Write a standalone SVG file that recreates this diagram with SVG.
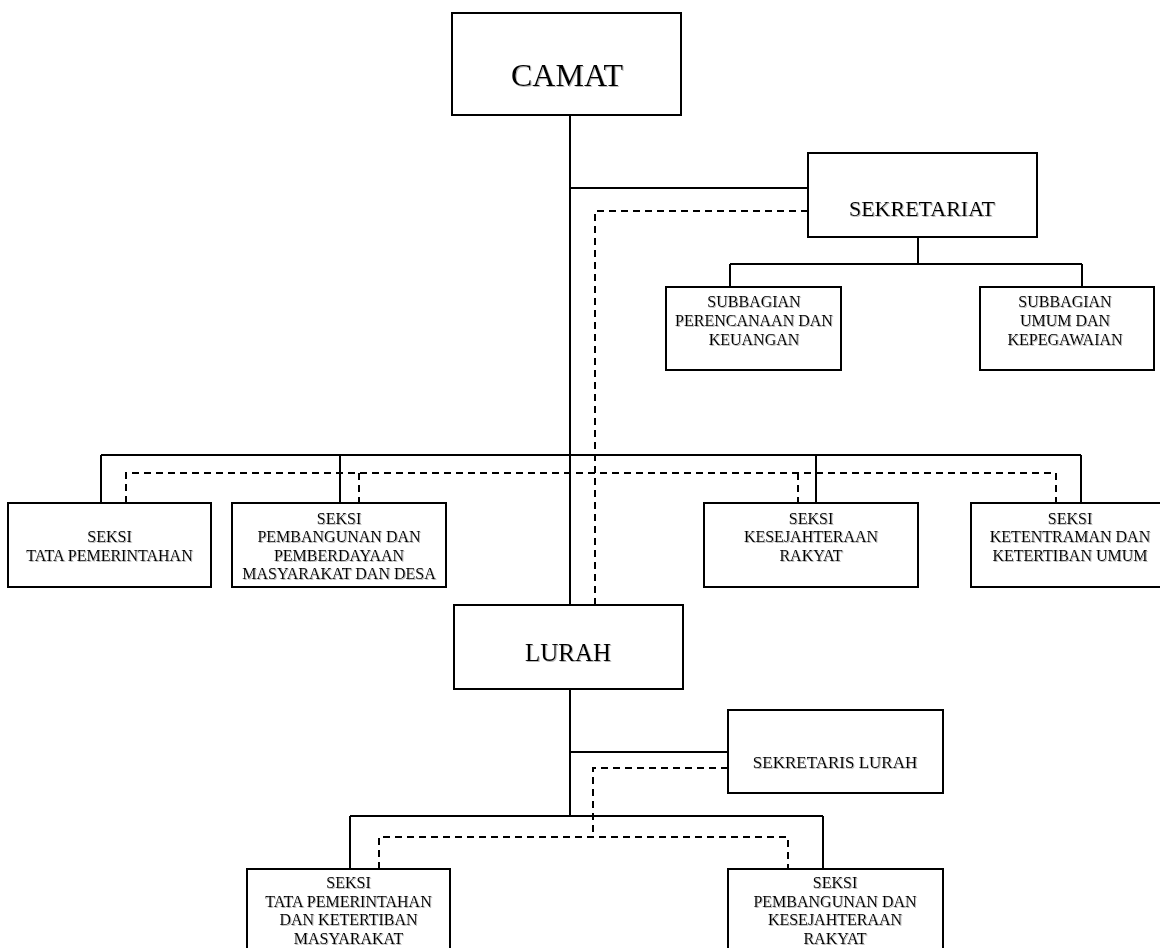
<svg xmlns="http://www.w3.org/2000/svg" width="1160" height="948" viewBox="0 0 1160 948">
<defs>
<filter id="sh" x="-10%" y="-20%" width="130%" height="150%">
<feDropShadow dx="1" dy="1" stdDeviation="0.6" flood-color="#888" flood-opacity="0.6"/>
</filter>
</defs>
<style>
.box{fill:#fff;stroke:#000;stroke-width:2}
.t{font-family:"Liberation Serif","Times New Roman",serif;fill:#000;text-anchor:middle;filter:url(#sh)}
.s16{font-size:16px}
.ln{fill:none;stroke:#000;stroke-width:2}
.dash{fill:none;stroke:#000;stroke-width:2;stroke-dasharray:7 5}
</style>
<rect width="1160" height="948" fill="#fff"/>
<g id="connectors">
<path class="ln" d="M570 115V605M570 188H808M918 237V264M730 264H1082M730 264V287M1082 264V287"/>
<path class="ln" d="M101 455H1081M101 455V503M340 455V503M816 455V503M1081 455V503"/>
<path class="ln" d="M570 689V816M570 752H728M350 816H823M350 816V869M823 816V869"/>
<path class="dash" d="M808 211H595V605"/>
<path class="dash" d="M126 503V473H1056V503M359 473V503M798 473V503"/>
<path class="dash" d="M728 768H593V837"/>
<path class="dash" d="M379 869V837H788V869"/>
</g>
<g id="camat">
<rect class="box" x="452" y="13" width="229" height="102"/>
<text class="t" x="567" y="86" font-size="32">CAMAT</text>
</g>
<g id="sekretariat">
<rect class="box" x="808" y="153" width="229" height="84"/>
<text class="t" x="922" y="216" font-size="22">SEKRETARIAT</text>
</g>
<g id="subbagian-perencanaan">
<rect class="box" x="666" y="287" width="175" height="83"/>
<text class="t s16"><tspan x="754" y="307">SUBBAGIAN</tspan><tspan x="754" y="326">PERENCANAAN DAN</tspan><tspan x="754" y="344.5">KEUANGAN</tspan></text>
</g>
<g id="subbagian-umum">
<rect class="box" x="980" y="287" width="174" height="83"/>
<text class="t s16"><tspan x="1065" y="307">SUBBAGIAN</tspan><tspan x="1065" y="326">UMUM DAN</tspan><tspan x="1065" y="344.5">KEPEGAWAIAN</tspan></text>
</g>
<g id="seksi-tata-pemerintahan">
<rect class="box" x="8" y="503" width="203" height="84"/>
<text class="t s16"><tspan x="109.5" y="542">SEKSI</tspan><tspan x="109.5" y="560.5">TATA PEMERINTAHAN</tspan></text>
</g>
<g id="seksi-pembangunan">
<rect class="box" x="232" y="503" width="214" height="84"/>
<text class="t s16"><tspan x="339" y="523.5">SEKSI</tspan><tspan x="339" y="542">PEMBANGUNAN DAN</tspan><tspan x="339" y="560.5">PEMBERDAYAAN</tspan><tspan x="339" y="579">MASYARAKAT DAN DESA</tspan></text>
</g>
<g id="seksi-kesejahteraan">
<rect class="box" x="704" y="503" width="214" height="84"/>
<text class="t s16"><tspan x="811" y="523.5">SEKSI</tspan><tspan x="811" y="542">KESEJAHTERAAN</tspan><tspan x="811" y="560.5">RAKYAT</tspan></text>
</g>
<g id="seksi-ketentraman">
<rect class="box" x="971" y="503" width="200" height="84"/>
<text class="t s16"><tspan x="1070" y="523.5">SEKSI</tspan><tspan x="1070" y="542">KETENTRAMAN DAN</tspan><tspan x="1070" y="560.5">KETERTIBAN UMUM</tspan></text>
</g>
<g id="lurah">
<rect class="box" x="454" y="605" width="229" height="84"/>
<text class="t" x="568" y="661" font-size="25">LURAH</text>
</g>
<g id="sekretaris-lurah">
<rect class="box" x="728" y="710" width="215" height="83"/>
<text class="t" x="835" y="768" font-size="17">SEKRETARIS LURAH</text>
</g>
<g id="seksi-tata-pemerintahan-ketertiban">
<rect class="box" x="247" y="869" width="203" height="90"/>
<text class="t s16"><tspan x="348.5" y="888">SEKSI</tspan><tspan x="348.5" y="907">TATA PEMERINTAHAN</tspan><tspan x="348.5" y="925">DAN KETERTIBAN</tspan><tspan x="348.5" y="944">MASYARAKAT</tspan></text>
</g>
<g id="seksi-pembangunan-kesejahteraan">
<rect class="box" x="728" y="869" width="215" height="90"/>
<text class="t s16"><tspan x="835" y="888">SEKSI</tspan><tspan x="835" y="907">PEMBANGUNAN DAN</tspan><tspan x="835" y="925">KESEJAHTERAAN</tspan><tspan x="835" y="944">RAKYAT</tspan></text>
</g>
</svg>
